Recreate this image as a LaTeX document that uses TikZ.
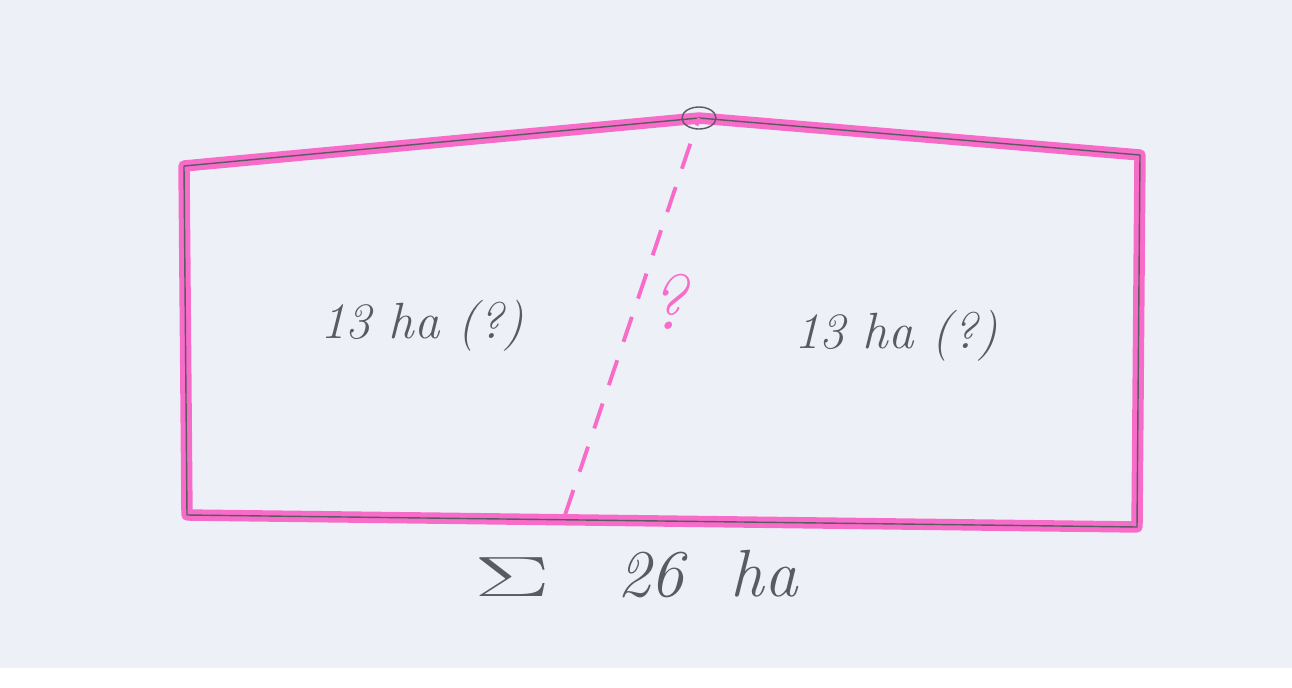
\documentclass[tikz,border=0pt]{standalone}
\usepackage{tikz}
\usepackage{graphicx}
\definecolor{paper}{HTML}{EEF0F8}
\definecolor{marker}{HTML}{F76CC9}
\definecolor{pencil}{HTML}{5A5A62}
\begin{document}
\begin{tikzpicture}[x=0.02cm,y=-0.02cm]
  % paper
  \fill[white] (0,0) rectangle (1292,687);
  \fill[paper] (0,0) rectangle (1292,668);
  \useasboundingbox (0,0) rectangle (1292,687);
  % field corners
  \coordinate (tl) at (184,166);
  \coordinate (peak) at (699,118);
  \coordinate (tr) at (1140,155);
  \coordinate (br) at (1137,527);
  \coordinate (bl) at (187,515);
  \coordinate (cut) at (565,515);
  \draw[marker, line width=6.5pt, line join=round] (tl) -- (peak) -- (tr) -- (br) -- (bl) -- cycle;
  \draw[pencil, line width=0.8pt, line join=round] (tl) -- (peak) -- (tr) -- (br) -- (bl) -- cycle;
  \draw[pencil, line width=0.8pt] (peak) ellipse (17 and 11);
  % dividing line
  \draw[marker, line width=2.2pt, dash pattern=on 15pt off 11pt] (cut) -- (peak);
  \node[marker, font=\fontsize{44}{48}\selectfont\itshape] (q) at (668,302) {?};
  \node[pencil, font=\fontsize{29}{33}\selectfont\itshape] (left) at (422,326) {13 ha (?)};
  \node[pencil, font=\fontsize{29}{33}\selectfont\itshape] (right) at (896,336) {13 ha (?)};
  \node[pencil, font=\fontsize{38}{42}\selectfont\itshape] (sum) at (636,574) {\scalebox{2.6}[1.3]{$\Sigma$}\quad 26\ \ ha};
\end{tikzpicture}
\end{document}
